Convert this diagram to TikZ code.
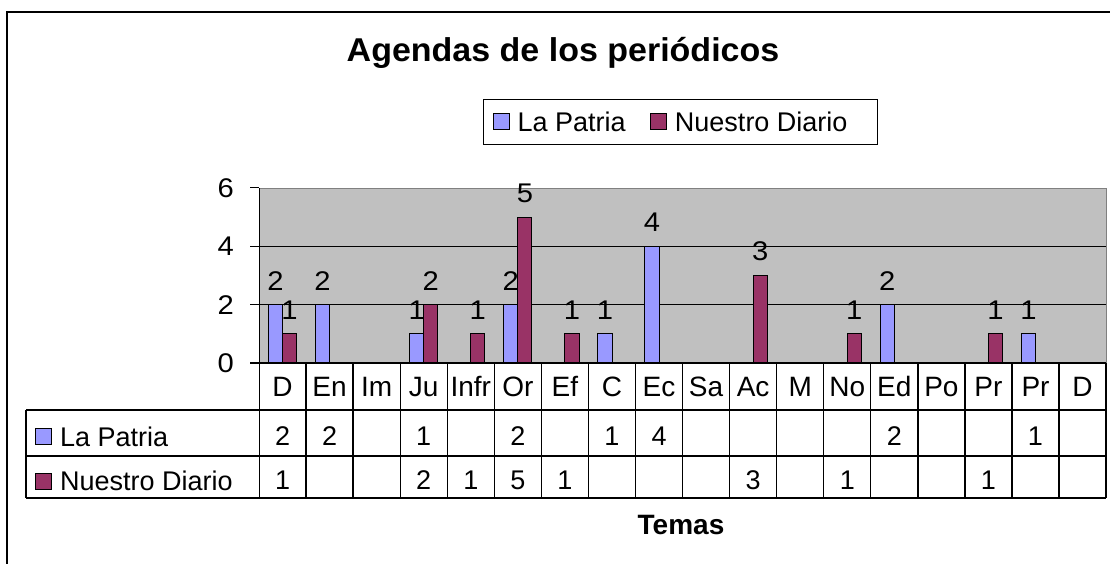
\documentclass[tikz,border=0pt]{standalone}
\usepackage{fontspec}
\setmainfont{Liberation Sans}
\usetikzlibrary{positioning}
\definecolor{patria}{RGB}{153,153,255}
\definecolor{diario}{RGB}{153,51,102}
\definecolor{wall}{RGB}{192,192,192}
\definecolor{wallborder}{RGB}{128,128,128}
\tikzset{
	every node/.style = {inner sep=0pt, font=\fontsize{27}{32}\selectfont},
	keybox/.style = {draw=black, line width=0.9pt, minimum size=16pt},
	numlabel/.style = {font=\fontsize{27}{32}\selectfont, xscale=1.08},
	grid/.style = {line width=1pt},
	tablerule/.style = {line width=1.3pt}
}
\newcommand{\colw}{47.06}
\newcommand{\unitv}{29.17}

\begin{document}
\begin{tikzpicture}[x=1pt, y=-1pt, bar/.style={draw=black, line width=0.9pt}]
	\useasboundingbox (0,0) rectangle (1110,563);
	% chart frame
	\draw[line width=2pt] (7,580) -- (7,12) -- (1130,12);
	\node[font=\fontsize{33}{36}\selectfont\bfseries, anchor=base, xscale=1.03] (title) at (563,61) {Agendas de los periódicos};
	% legend
	\node[draw=black, line width=1pt, minimum width=394pt, minimum height=45pt] (legend) at (680,121.5) {};
	\node[keybox, fill=patria, right=10pt of legend.west] (key-lp) {};
	\node[right=8pt of key-lp] (name-lp) {La Patria};
	\node[keybox, fill=diario, right=24pt of name-lp] (key-nd) {};
	\node[right=8pt of key-nd] (name-nd) {Nuestro Diario};
	% plot area
	\fill[wall] (259,188) rectangle (1106,363);
	\draw[wallborder, line width=1pt] (259,188) -- (1106,188) -- (1106,363);
	\foreach \g in {2,4}
		\draw[grid] (259,363-\g*\unitv) -- (1106,363-\g*\unitv);
	% La Patria
	\foreach \v [count=\i] in {2,2,0,1,0,2,0,1,4,0,0,0,0,2,0,0,1,0} {
		\pgfmathsetmacro\cx{259+(\i-0.5)*\colw}
		\ifnum\v>0
			\draw[bar, fill=patria] (\cx-14.1,363) rectangle (\cx,363-\v*\unitv);
			\node[numlabel] (lp-top-\i) at (\cx-7.05,363-\v*\unitv-24) {\v};
			\node (lp-val-\i) at (\cx,436.5) {\v};
		\fi
	}
	% Nuestro Diario
	\foreach \v [count=\i] in {1,0,0,2,1,5,1,0,0,0,3,0,1,0,0,1,0,0} {
		\pgfmathsetmacro\cx{259+(\i-0.5)*\colw}
		\ifnum\v>0
			\draw[bar, fill=diario] (\cx,363) rectangle (\cx+14.1,363-\v*\unitv);
			\node[numlabel] (nd-top-\i) at (\cx+7.05,363-\v*\unitv-24) {\v};
			\node (nd-val-\i) at (\cx,480) {\v};
		\fi
	}
	% axis
	\draw[line width=1pt] (259,188) -- (259,498);
	\foreach \g in {0,2,4,6} {
		\draw[line width=1pt] (250,363-\g*\unitv) -- (259,363-\g*\unitv);
		\node[numlabel, anchor=east] (tick-\g) at (234,363-\g*\unitv) {\g};
	}
	\draw[line width=1.5pt] (250,363) -- (1106,363);
	% data table
	\foreach \y in {410,456,498}
		\draw[tablerule] (26,\y) -- (1106,\y);
	\draw[tablerule] (26,410) -- (26,498);
	\foreach \k in {1,...,18}
		\draw[tablerule] (259+\k*\colw,363) -- (259+\k*\colw,498);
	\foreach \c [count=\i] in {D,En,Im,Ju,Infr,Or,Ef,C,Ec,Sa,Ac,M,No,Ed,Po,Pr,Pr,D}
		\node[font=\fontsize{28}{32}\selectfont, anchor=base] (cat-\i) at (259+\i*\colw-0.5*\colw,396.5) {\c};
	\node[keybox, fill=patria] (key-row-lp) at (43.5,436.5) {};
	\node[right=8pt of key-row-lp] (row-lp) {La Patria};
	\node[keybox, fill=diario] (key-row-nd) at (43.5,481) {};
	\node[right=8pt of key-row-nd] (row-nd) {Nuestro Diario};
	\node[font=\fontsize{28}{32}\selectfont\bfseries] (temas) at (681,524.5) {Temas};
\end{tikzpicture}
\end{document}
